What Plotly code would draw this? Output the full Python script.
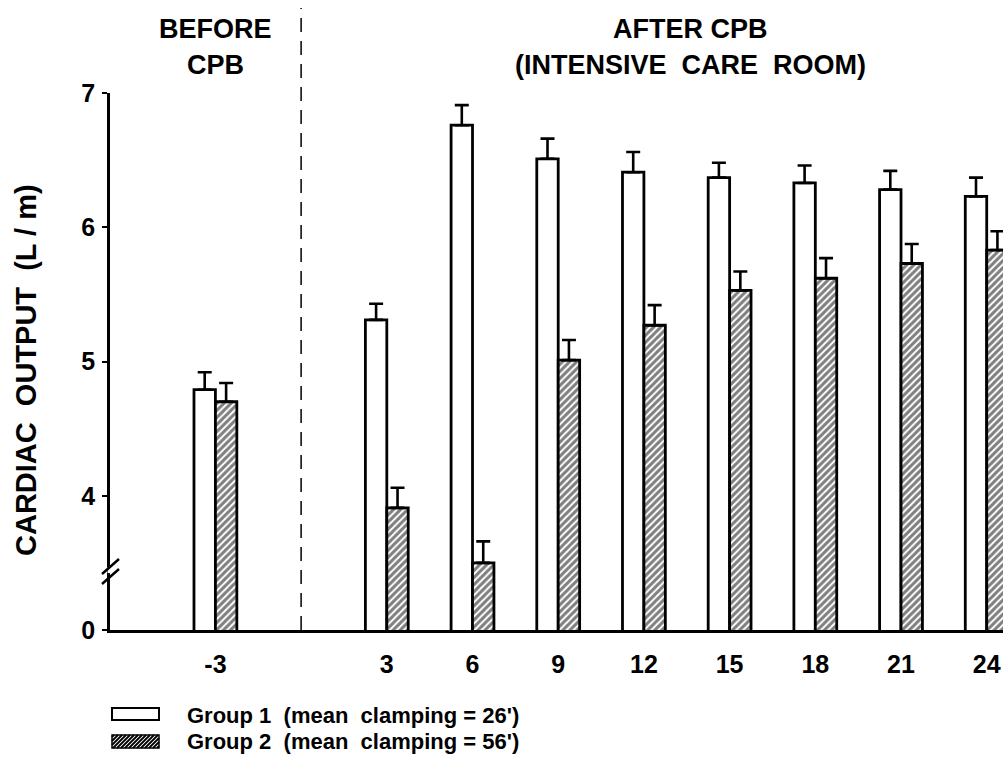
import plotly.graph_objects as go

# ---- data ----
hours = [-3, 3, 6, 9, 12, 15, 18, 21, 24]
hour_labels = ["-3", "3", "6", "9", "12", "15", "18", "21", "24"]
group1 = [4.79, 5.31, 6.76, 6.51, 6.41, 6.37, 6.33, 6.28, 6.23]
group1_err = [0.13, 0.12, 0.15, 0.15, 0.15, 0.11, 0.13, 0.14, 0.14]
group2 = [4.70, 3.91, 3.50, 5.01, 5.27, 5.53, 5.62, 5.73, 5.83]
group2_err = [0.14, 0.15, 0.16, 0.15, 0.15, 0.14, 0.15, 0.145, 0.14]
y_tickvals = [3, 4, 5, 6, 7]
y_ticktext = ["0", "4", "5", "6", "7"]

FONT = "Liberation Sans, Arial, Helvetica, sans-serif"
W, H = 1003, 758
PLOT_L, PLOT_R, PLOT_T, PLOT_B = 110, 1003, 93, 630   # page pixels
ML, MT = PLOT_L, PLOT_T
MR = W - PLOT_R
MB = H - PLOT_B
PW = W - ML - MR
PH = H - MT - MB


def px2paper_x(px):
    return (px - PLOT_L) / PW


def px2paper_y(py):
    return (PLOT_B - py) / PH


fig = go.Figure()

err_style = dict(type="data", symmetric=False, color="black", thickness=2.6, width=7)

fig.add_trace(go.Bar(
    x=hours, y=group1, name="Group 1",
    marker=dict(color="white", line=dict(color="black", width=2.8)),
    error_y=dict(array=group1_err, arrayminus=[0] * len(group1), **err_style),
))
fig.add_trace(go.Bar(
    x=hours, y=group2, name="Group 2",
    marker=dict(color="white", line=dict(color="black", width=2.8),
                pattern=dict(shape="/", fgcolor="black", bgcolor="white",
                             size=5, solidity=0.6)),
    error_y=dict(array=group2_err, arrayminus=[0] * len(group2), **err_style),
))

shapes = []
# dashed separator between BEFORE and AFTER CPB
shapes.append(dict(type="line", xref="x", yref="paper", x0=0, x1=0, y0=0,
                   y1=px2paper_y(8),
                   line=dict(color="black", width=1.5, dash="14px,9px"), layer="above"))

# axis break marks
shapes.append(dict(type="line", xref="paper", yref="y", x0=0, x1=0, y0=3.424, y1=3.469,
                   line=dict(color="white", width=5), layer="above"))
for (ya, yb) in [(3.417, 3.529), (3.343, 3.454)]:
    shapes.append(dict(type="line", xref="paper", yref="y",
                       x0=px2paper_x(102), x1=px2paper_x(119), y0=ya, y1=yb,
                       line=dict(color="black", width=2.5), layer="above"))

# legend swatches
bx0, bx1 = 112, 159
shapes.append(dict(type="rect", xref="paper", yref="paper",
                   x0=px2paper_x(bx0), x1=px2paper_x(bx1),
                   y0=px2paper_y(720), y1=px2paper_y(708),
                   line=dict(color="black", width=2), fillcolor="white"))
ty, by = 735, 748
shapes.append(dict(type="rect", xref="paper", yref="paper",
                   x0=px2paper_x(bx0), x1=px2paper_x(bx1),
                   y0=px2paper_y(by), y1=px2paper_y(ty),
                   line=dict(color="black", width=1.5), fillcolor="white"))
c = bx0 + ty + 2
while c < bx1 + by:
    xa = max(bx0, c - by)
    xb = min(bx1, c - ty)
    if xb > xa:
        shapes.append(dict(type="line", xref="paper", yref="paper",
                           x0=px2paper_x(xa), y0=px2paper_y(c - xa),
                           x1=px2paper_x(xb), y1=px2paper_y(c - xb),
                           line=dict(color="black", width=1.8)))
    c += 4

nb = "\u00a0"
TF = dict(size=27, family=FONT, color="black", weight="bold")
annotations = [
    dict(text="BEFORE", x=-3, xref="x", y=px2paper_y(29), yref="paper",
         showarrow=False, font=TF, xanchor="center", yanchor="middle"),
    dict(text="CPB", x=-3, xref="x", y=px2paper_y(65), yref="paper",
         showarrow=False, font=TF, xanchor="center", yanchor="middle"),
    dict(text="AFTER" + nb + "CPB", x=px2paper_x(690), xref="paper", y=px2paper_y(29), yref="paper",
         showarrow=False, font=TF, xanchor="center", yanchor="middle"),
    dict(text="(INTENSIVE" + nb * 2 + "CARE" + nb * 2 + "ROOM)", x=px2paper_x(690), xref="paper",
         y=px2paper_y(65), yref="paper",
         showarrow=False, font=TF, xanchor="center", yanchor="middle"),
    dict(text="CARDIAC" + nb * 2 + "OUTPUT" + nb * 2 + "(L / m)", x=px2paper_x(26), xref="paper",
         y=px2paper_y(370), yref="paper", textangle=-90,
         showarrow=False, font=dict(size=29, family=FONT, color="black", weight="bold"),
         xanchor="center", yanchor="middle"),
    dict(text="Group 1" + nb * 2 + "(mean" + nb * 2 + "clamping = 26')", x=px2paper_x(185), xref="paper",
         y=px2paper_y(715), yref="paper",
         showarrow=False, font=dict(size=22, family=FONT, color="black", weight="bold"),
         xanchor="left", yanchor="middle"),
    dict(text="Group 2" + nb * 2 + "(mean" + nb * 2 + "clamping = 56')", x=px2paper_x(185), xref="paper",
         y=px2paper_y(741), yref="paper",
         showarrow=False, font=dict(size=22, family=FONT, color="black", weight="bold"),
         xanchor="left", yanchor="middle"),
]

fig.update_layout(
    width=W, height=H, autosize=False,
    margin=dict(l=ML, r=MR, t=MT, b=MB, pad=0),
    plot_bgcolor="white", paper_bgcolor="white",
    barmode="group", bargap=0.5, bargroupgap=0,
    showlegend=False,
    shapes=shapes, annotations=annotations,
    font=dict(family=FONT, color="black"),
)
fig.update_xaxes(
    range=[-6.69, 24.57], tickmode="array", tickvals=hours, ticktext=hour_labels,
    showline=True, linecolor="black", linewidth=2.5, ticks="", showgrid=False,
    zeroline=False, tickfont=dict(size=25, family=FONT, color="black", weight="bold"),
    ticklabelstandoff=10, ticklabeloverflow="allow",
)
fig.update_yaxes(
    range=[3, 7], tickmode="array", tickvals=y_tickvals, ticktext=y_ticktext,
    showline=True, linecolor="black", linewidth=2.5, ticks="outside", ticklen=5,
    tickwidth=2, tickcolor="black", showgrid=False, zeroline=False,
    tickfont=dict(size=25, family=FONT, color="black", weight="bold"),
    ticklabelstandoff=2,
)

fig.write_html(
    "out.html",
    config={"displayModeBar": False},
    post_script="document.body.style.margin='0';document.body.style.overflow='hidden';",
)
